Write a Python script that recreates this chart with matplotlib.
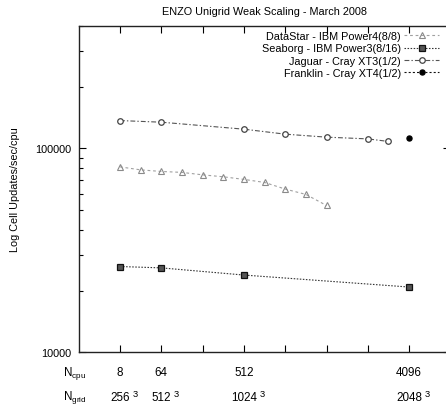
import matplotlib
matplotlib.use("Agg")
import matplotlib.pyplot as plt
from matplotlib.ticker import LogLocator, NullFormatter, FixedLocator
import matplotlib.transforms as mtransforms

plt.rcParams['font.family'] = ['Liberation Sans', 'DejaVu Sans']
plt.rcParams['mathtext.fontset'] = 'custom'
plt.rcParams['mathtext.rm'] = 'Liberation Sans'
plt.rcParams['mathtext.it'] = 'Liberation Sans'
plt.rcParams['lines.scale_dashes'] = False

# ---- data ----
title = "ENZO Unigrid Weak Scaling - March 2008"
ylabel = "Log Cell Updates/sec/cpu"

datastar_x = [0, 0.5, 1, 1.5, 2, 2.5, 3, 3.5, 4, 4.5, 5]
datastar_y = [81200, 78500, 77100, 76300, 74200, 72600, 70500, 68100, 63200, 59500, 52500]

seaborg_x = [0, 1, 3, 7]
seaborg_y = [26350, 25950, 23930, 20900]

jaguar_x = [0, 1, 3, 4, 5, 6, 6.5]
jaguar_y = [137000, 134500, 124300, 117500, 113600, 111400, 108200]

franklin_x = [7]
franklin_y = [112000]

tick_pos = [0, 1, 3, 7]
ncpu_labels = ["8", "64", "512", "4096"]
ngrid_labels = ["256", "512", "1024", "2048"]

labels = ["DataStar - IBM Power4(8/8)", "Seaborg - IBM Power3(8/16)",
          "Jaguar - Cray XT3(1/2)", "Franklin - Cray XT4(1/2)"]

W, H = 446, 410
fig = plt.figure(figsize=(W / 100, H / 100), dpi=100)
ax = fig.add_axes([78.7 / W, (H - 353.3) / H, (450.4 - 78.7) / W, (353.3 - 26.7) / H])

fs = 7.8
fsn = 8.4
h1, = ax.plot(datastar_x, datastar_y, color='#a0a0a0', lw=0.8, dashes=(2.0, 2.0),
              marker='^', ms=3.8, mfc='none', mec='#8a8a8a', mew=0.8, label=labels[0])
h2, = ax.plot(seaborg_x, seaborg_y, color='#333333', lw=0.8, dashes=(1.1, 1.1),
              marker='s', ms=3.8, mfc='#555555', mec='#111111', mew=0.9, label=labels[1])
h3, = ax.plot(jaguar_x, jaguar_y, color='#555555', lw=0.8, dashes=(3.5, 1.5, 1.0, 1.5),
              marker='o', ms=4.0, mfc='white', mec='#444444', mew=0.9, label=labels[2])
h4, = ax.plot(franklin_x, franklin_y, color='#111111', lw=0.8, dashes=(1.5, 1.5),
              marker='o', ms=3.6, mfc='black', mec='black', label=labels[3])

ax.set_yscale('log')
ax.set_ylim(1e4, 4e5)
ax.set_xlim(-1, 8)
ax.xaxis.set_major_locator(FixedLocator(list(range(0, 8))))
ax.set_xticklabels([])
ax.yaxis.set_minor_locator(LogLocator(base=10, subs=range(2, 10)))
ax.yaxis.set_minor_formatter(NullFormatter())
ax.set_yticks([1e4, 1e5])
ax.set_yticklabels(["10000", "100000"])
ax.tick_params(which='both', direction='in', top=True, right=True, width=0.8, labelsize=fs)
ax.tick_params(which='major', length=5, pad=5)
ax.tick_params(which='minor', length=2.8)
for s in ax.spines.values():
    s.set_linewidth(1.0)
    s.set_color('#222222')

fig.text(264.5 / W, 1 - 11.7 / H, title, ha='center', va='center', fontsize=fs)
fig.text(15 / W, 1 - 190 / H, ylabel, ha='center', va='center', rotation=90, fontsize=fs)

trans = mtransforms.blended_transform_factory(ax.transData, fig.transFigure)
y_cpu = 1 - 373.5 / H
y_grid = 1 - 398 / H
for p, c, g in zip(tick_pos, ncpu_labels, ngrid_labels):
    ax.text(p, y_cpu, c, transform=trans, ha='center', va='center', fontsize=fsn, clip_on=False)
    t = ax.text(p, y_grid, g, transform=trans, ha='center', va='center', fontsize=fsn, clip_on=False)
    ax.annotate("3", xy=(1, 0.45), xycoords=t, xytext=(2.2, 0), textcoords='offset points',
                ha='left', va='bottom', fontsize=fsn * 0.8, annotation_clip=False)

fig.text(63 / W, y_cpu, r"N$_{\mathrm{cpu}}$", ha='left', va='center', fontsize=fsn)
fig.text(63 / W, y_grid, r"N$_{\mathrm{grid}}$", ha='left', va='center', fontsize=fsn)

leg = fig.legend(handles=[h1, h2, h3, h4], loc='upper right',
                 bbox_to_anchor=(439 / W, 1 - 32 / H), markerfirst=False, frameon=False,
                 fontsize=fs, handlelength=3.2, handletextpad=0.3, labelspacing=0.22,
                 borderpad=0, borderaxespad=0, numpoints=1)
for txt in leg.get_texts():
    txt.set_ha('right')

fig.savefig("out.png", dpi=100)
